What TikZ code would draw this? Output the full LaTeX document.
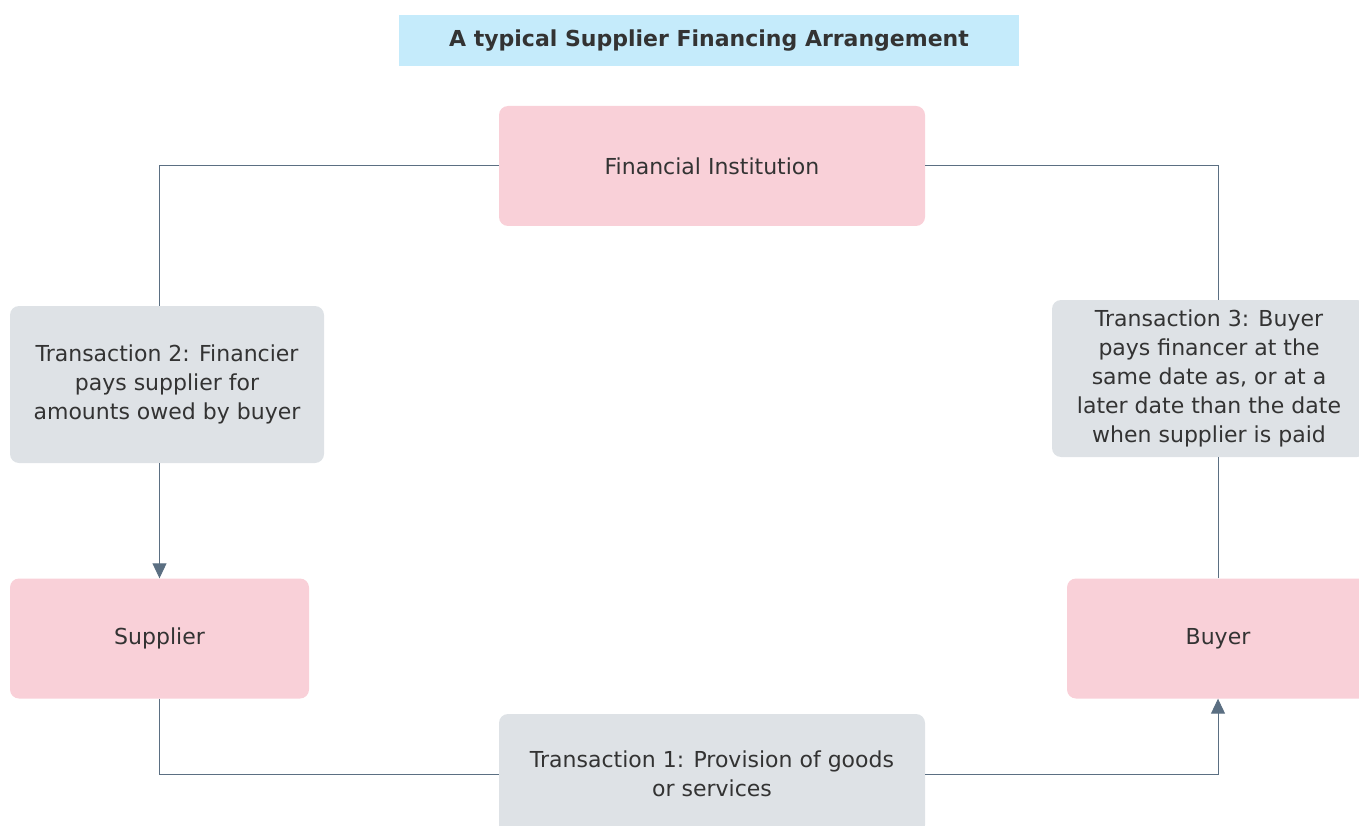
\documentclass[tikz,border=0pt]{standalone}
\usepackage{fontspec}
\setmainfont{DejaVu Sans}
\usetikzlibrary{arrows.meta}
\definecolor{pinkbox}{HTML}{F9D0D8}
\definecolor{graybox}{HTML}{DEE2E6}
\definecolor{titlebox}{HTML}{C5EBFB}
\definecolor{linec}{HTML}{5B6F82}
\definecolor{txt}{HTML}{333333}
\tikzset{
  box/.style={rounded corners=9pt, minimum width=#1, align=center, text=txt, font=\fontsize{22}{29}\selectfont, inner sep=0pt},
  party/.style={box=#1, fill=pinkbox, minimum height=120pt},
  trans/.style={box=#1, fill=graybox},
  conn/.style={draw=linec, line width=1pt},
  arr/.style={conn, -{Triangle[length=15pt,width=14pt]}}
}
\begin{document}
\begin{tikzpicture}[x=1pt,y=-1pt]
\useasboundingbox (0,0) rectangle (1359,826);
\node[fill=titlebox, minimum width=620pt, minimum height=51pt, inner sep=0pt, text=txt, font=\fontsize{22}{28}\selectfont\bfseries] (title) at (709,40.5) {A typical Supplier Financing Arrangement};
\node[party=426pt] (fi) at (712,166) {Financial Institution};
\node[party=299pt] (sup) at (159.5,638.5) {Supplier};
\node[party=302pt] (buy) at (1218,638.5) {Buyer};
\node[trans=314pt, minimum height=157pt] (t2) at (167,384.5) {Transaction 2: Financier\\pays supplier for\\amounts owed by buyer};
\node[trans=314pt, minimum height=157pt] (t3) at (1209,378.5) {Transaction 3: Buyer\\pays financer at the\\same date as, or at a\\later date than the date\\when supplier is paid};
\node[trans=426pt, minimum height=120pt] (t1) at (712,774) {Transaction 1: Provision of goods\\or services};
\draw[conn] (fi.west) -| (t2.north -| sup.north);
\draw[arr] (t2.south -| sup.north) -- (sup.north);
\draw[conn] (sup.south) |- (t1.west);
\draw[arr] (t1.east) -| (buy.south);
\draw[conn] (buy.north) -- (buy.north |- t3.south);
\draw[conn] (buy.north |- t3.north) |- (fi.east);
\end{tikzpicture}
\end{document}
